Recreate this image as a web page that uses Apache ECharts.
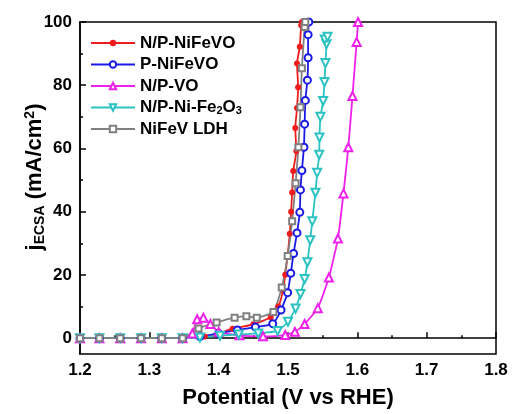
<!DOCTYPE html>
<html>
<head>
<meta charset="utf-8">
<script src="https://cdn.jsdelivr.net/npm/echarts@6/dist/echarts.min.js"></script>
<style>
html,body{margin:0;padding:0;background:#fff;}
#chart{width:512px;height:414px;}
</style>
</head>
<body>
<div id="chart"></div>
<script>
// ---- data (x: potential V vs RHE, y: j_ECSA mA/cm2) ----
var seriesNames = ['N/P-NiFeVO', 'P-NiFeVO', 'N/P-VO', 'N/P-Ni-Fe2O3', 'NiFeV LDH'];

var npNiFeVO = [[1.2,0],[1.228,0],[1.258,0],[1.288,0],[1.318,0],[1.348,0],[1.38,0.5],[1.40,1.5],[1.42,3.0],
  [1.45,4.4],[1.475,6.6],[1.486,10],[1.493,15.2],[1.496,20.1],[1.4996,26.4],[1.5025,33],[1.5045,40],
  [1.506,46.1],[1.5075,52.9],[1.512,59.2],[1.5105,66.5],[1.513,72.8],[1.5146,79.4],[1.513,86.9],
  [1.517,92.2],[1.519,99],[1.52,100]];

var pNiFeVO = [[1.2,0],[1.228,0],[1.258,0],[1.288,0],[1.318,0],[1.348,0],[1.373,0.5],[1.40,1.5],[1.427,2.6],
  [1.453,3.5],[1.478,4.6],[1.49,8.9],[1.4995,14.4],[1.504,20.5],[1.508,26.8],[1.513,33.3],[1.517,39.8],
  [1.518,46.9],[1.520,53],[1.523,60.4],[1.524,67.7],[1.525,75.2],[1.528,81.6],[1.529,88.7],[1.529,96],
  [1.530,100]];

var npVO = [[1.2,0],[1.228,0],[1.258,0],[1.288,0],[1.318,0],[1.348,0],[1.362,1.5],[1.369,6],[1.378,6.5],
  [1.388,4.5],[1.40,2],[1.43,0.9],[1.464,0.6],[1.496,1.0],[1.51,2],[1.524,4.5],[1.543,9.5],[1.559,19.2],
  [1.572,31.5],[1.580,45.8],[1.587,60.4],[1.593,76.6],[1.599,93.7],[1.601,100]];

var npNiFe2O3 = [[1.2,0],[1.228,0],[1.258,0],[1.288,0],[1.318,0],[1.348,0],[1.373,0.2],[1.402,0.8],[1.429,1.2],
  [1.457,1.5],[1.485,2.3],[1.50,5.2],[1.511,9.4],[1.518,14],[1.524,18.7],[1.528,24],[1.532,31],[1.535,37],
  [1.5396,46],[1.542,52.3],[1.545,58],[1.5454,63.5],[1.5468,70],[1.5507,75],[1.5526,81],[1.554,87],
  [1.5555,93],[1.553,94.5],[1.557,95.3]];

var nifevLDH = [[1.2,0],[1.228,0],[1.258,0],[1.288,0],[1.318,0],[1.348,0],[1.371,3.1],[1.397,5],[1.423,6.5],
  [1.44,6.9],[1.455,6.5],[1.479,8.3],[1.491,16],[1.4995,26],[1.506,37],[1.511,49],[1.515,60.4],
  [1.518,73],[1.520,85.4],[1.524,98.4],[1.525,100]];

var xTicks = [1.2, 1.3, 1.4, 1.5, 1.6, 1.7, 1.8];
var yTicks = [0, 20, 40, 60, 80, 100];
var yMinorTicks = [10, 30, 50, 70, 90];

// ---- chart ----
var FONT = 'Liberation Sans, Arial, Helvetica, sans-serif';
var colors = ['#ee1c1c', '#1a1ae6', '#f020ec', '#2cc2c2', '#808080'];
var symbols = ['circle', 'emptyCircle', 'emptyTriangle', 'emptyTriangle', 'emptyRect'];
var rotates = [0, 0, 0, 180, 0];
var sizes = [6, 7, 8, 8, 6];
var datas = [npNiFeVO, pNiFeVO, npVO, npNiFe2O3, nifevLDH];

var chart = echarts.init(document.getElementById('chart'), null, {renderer: 'canvas'});

var series = seriesNames.map(function (n, i) {
  return {
    name: n,
    type: 'line',
    data: datas[i],
    symbol: symbols[i],
    symbolSize: sizes[i],
    symbolRotate: rotates[i],
    showAllSymbol: true,
    smooth: 0.15,
    lineStyle: {color: colors[i], width: 1.8},
    itemStyle: {color: colors[i], borderWidth: 1.4},
    emphasis: {disabled: true},
    animation: false
  };
});

chart.setOption({
  animation: false,
  backgroundColor: '#fff',
  textStyle: {fontFamily: FONT},
  grid: {left: 80, right: 16, top: 22, bottom: 58, show: true, borderColor: '#000', borderWidth: 1.5, backgroundColor: 'transparent'},
  legend: {
    orient: 'vertical',
    left: 90,
    top: 34,
    padding: 0,
    itemWidth: 44,
    itemHeight: 8,
    itemGap: 3.5,
    data: seriesNames,
    textStyle: {
      fontFamily: FONT, fontWeight: 'bold', fontSize: 17, color: '#000', lineHeight: 18,
      rich: {
        b: {fontFamily: FONT, fontWeight: 'bold', fontSize: 17, color: '#000', lineHeight: 18},
        s: {fontFamily: FONT, fontWeight: 'bold', fontSize: 11, color: '#000', lineHeight: 18, verticalAlign: 'bottom', padding: [7, 0, 0, 0]}
      }
    },
    formatter: function (name) {
      if (name === 'N/P-Ni-Fe2O3') return '{b|N/P-Ni-Fe}{s|2}{b|O}{s|3}';
      return name;
    }
  },
  xAxis: {
    type: 'value',
    min: 1.2, max: 1.8, interval: 0.1,
    name: 'Potential (V vs RHE)',
    nameLocation: 'middle',
    nameGap: 33,
    nameMoveOverlap: false,
    nameTextStyle: {fontFamily: FONT, fontWeight: 'bold', fontSize: 22, color: '#000'},
    axisLine: {show: true, lineStyle: {color: '#000', width: 1.5}},
    axisTick: {show: true, inside: true, length: 6, lineStyle: {color: '#000', width: 1.5}},
    minorTick: {show: true, splitNumber: 2, length: 3, lineStyle: {color: '#000', width: 1.5}},
    axisLabel: {fontFamily: FONT, fontWeight: 'bold', fontSize: 17, color: '#000', margin: 8,
      formatter: function (v) { return v.toFixed(1); }},
    splitLine: {show: false},
    minorSplitLine: {show: false}
  },
  yAxis: [{
    type: 'value',
    min: -5, max: 100,
    position: 'left',
    name: 'j{sub|ECSA} (mA/cm{sup|2})',
    nameLocation: 'middle',
    nameGap: 33,
    nameMoveOverlap: false,
    nameTextStyle: {
      fontFamily: FONT, fontWeight: 'bold', fontSize: 22, color: '#000', padding: [0, 0, 0, 22],
      rich: {
        sub: {fontFamily: FONT, fontWeight: 'bold', fontSize: 14, color: '#000', padding: [10, 0, 0, 0]},
        sup: {fontFamily: FONT, fontWeight: 'bold', fontSize: 14, color: '#000', padding: [0, 0, 10, 0]}
      }
    },
    axisLine: {show: true, lineStyle: {color: '#000', width: 1.5}},
    axisTick: {show: true, inside: true, length: 6, customValues: yTicks, lineStyle: {color: '#000', width: 1.5}},
    axisLabel: {fontFamily: FONT, fontWeight: 'bold', fontSize: 17, color: '#000', margin: 8, customValues: yTicks},
    splitLine: {show: false}
  }, {
    type: 'value',
    min: -5, max: 100,
    position: 'left',
    offset: 0,
    axisLine: {show: false},
    axisTick: {show: true, inside: true, length: 3, customValues: yMinorTicks, lineStyle: {color: '#000', width: 1.5}},
    axisLabel: {show: false},
    splitLine: {show: false}
  }],
  series: series
});
</script>
</body>
</html>
